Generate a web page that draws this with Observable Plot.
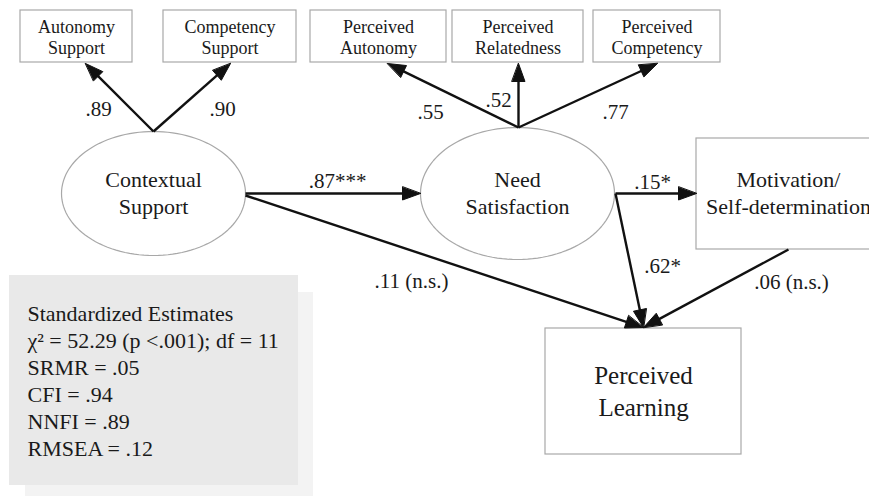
<!DOCTYPE html>
<html><head><meta charset="utf-8">
<script src="https://cdn.jsdelivr.net/npm/d3@7"></script>
<script src="https://cdn.jsdelivr.net/npm/@observablehq/plot@0.6"></script>
<style>html,body{margin:0;padding:0;background:#fff;overflow:hidden}#chart svg{overflow:hidden}</style>
</head><body><div id="chart"></div>
<script>
// ---------- data ----------
const nodeIds = ["AS", "CS", "PA", "PR", "PC", "CTX", "NS", "MOT", "PL"];
const nodeLabels = ["Autonomy\nSupport", "Competency\nSupport", "Perceived\nAutonomy", "Perceived\nRelatedness", "Perceived\nCompetency", "Contextual\nSupport", "Need\nSatisfaction", "Motivation/\nSelf-determination", "Perceived\nLearning"];
const nodeKinds = ["indicator", "indicator", "indicator", "indicator", "indicator", "latent", "latent", "observed", "outcome"];
const pathFrom = ["CTX", "CTX", "NS", "NS", "NS", "CTX", "NS", "CTX", "NS", "MOT"];
const pathTo = ["AS", "CS", "PA", "PR", "PC", "NS", "MOT", "PL", "PL", "PL"];
const pathEstimates = [".89", ".90", ".55", ".52", ".77", ".87***", ".15*", ".11 (n.s.)", ".62*", ".06 (n.s.)"];
const fitStats = ["Standardized Estimates", "χ² = 52.29 (p <.001); df = 11", "SRMR = .05", "CFI = .94", "NNFI = .89", "RMSEA = .12"];

// ---------- layout (diagram units = px) ----------
const nodeLayout = {
  AS:  {shape: "rect", x1: 20,  x2: 132, y1: 10,  y2: 62,  ty: 53},
  CS:  {shape: "rect", x1: 163, x2: 296, y1: 10,  y2: 62,  ty: 53},
  PA:  {shape: "rect", x1: 310, x2: 446, y1: 10,  y2: 62,  ty: 53},
  PR:  {shape: "rect", x1: 452, x2: 583, y1: 10,  y2: 62,  ty: 53},
  PC:  {shape: "rect", x1: 593, x2: 720, y1: 10,  y2: 62,  ty: 53},
  CTX: {shape: "ellipse", cx: 153, cy: 193, rx: 92, ry: 62, ty: 213},
  NS:  {shape: "ellipse", cx: 517, cy: 193, rx: 97, ry: 66, ty: 213},
  MOT: {shape: "rect", x1: 696, x2: 880, y1: 138, y2: 249, ty: 213},
  PL:  {shape: "rect", x1: 545, x2: 741, y1: 328, y2: 454, ty: 415}
};
const kindStyle = {
  indicator: {fontSize: 18, lineHeight: 1.15},
  latent:    {fontSize: 22, lineHeight: 1.2},
  observed:  {fontSize: 22, lineHeight: 1.2},
  outcome:   {fontSize: 25, lineHeight: 1.28}
};
// path endpoints [x1, y1, x2, y2] and estimate label anchor [lx, ly]
const pathLayout = [
  [153, 131, 85, 63, 98, 115],
  [153, 131, 230, 63, 222, 115],
  [518, 127, 387, 63, 430, 118],
  [518, 127, 518, 63, 498, 106],
  [518, 127, 657, 63, 615, 118],
  [245, 193, 420, 193, 337, 187],
  [615, 193, 696, 193, 652, 188],
  [245, 195, 643, 327, 411, 287],
  [615, 193, 643, 327, 662, 272],
  [788, 249, 643, 327, 791, 288]
];
const statsBox = {x1: 9, x2: 298, y1: 275, y2: 485, tx: 27, ty: 455};
const statsShadow = {x1: 25, x2: 313, y1: 292, y2: 505};

const HEAD_L = 18, HEAD_W = 13;
const FONT = "'Liberation Serif', 'Times New Roman', serif";

// ---------- build tables ----------
const nodes = nodeIds.map((id, i) => {
  const L = nodeLayout[id];
  const cx = L.shape === "rect" ? (L.x1 + Math.min(L.x2, 880)) / 2 : L.cx;
  return {id, label: nodeLabels[i], kind: nodeKinds[i], ...L, tx: L.shape === "rect" ? (id === "MOT" ? 788 : cx) : L.cx};
});
const rectNodes = nodes.filter(n => n.shape === "rect");
const ellipseNodes = nodes.filter(n => n.shape === "ellipse");
const ellipsePts = ellipseNodes.flatMap(n => d3.range(0, 361, 3).map(a => ({
  id: n.id, x: n.cx + n.rx * Math.cos(a * Math.PI / 180), y: n.cy + n.ry * Math.sin(a * Math.PI / 180)
})));

const paths = pathFrom.map((f, i) => {
  const [x1, y1, x2, y2, lx, ly] = pathLayout[i];
  const dx = x2 - x1, dy = y2 - y1, len = Math.hypot(dx, dy), ux = dx / len, uy = dy / len;
  return {i, from: f, to: pathTo[i], est: pathEstimates[i], x1, y1, x2, y2, lx, ly, ux, uy,
    sx: x2 - ux * (HEAD_L - 3), sy: y2 - uy * (HEAD_L - 3)};
});
const heads = paths.flatMap(p => {
  const bx = p.x2 - p.ux * HEAD_L, by = p.y2 - p.uy * HEAD_L;
  return [
    {i: p.i, x: p.x2, y: p.y2},
    {i: p.i, x: bx - p.uy * HEAD_W / 2, y: by + p.ux * HEAD_W / 2},
    {i: p.i, x: bx + p.uy * HEAD_W / 2, y: by - p.ux * HEAD_W / 2}
  ];
});

const textMarks = Object.keys(kindStyle).map(k => Plot.text(nodes.filter(n => n.kind === k), {
  x: "tx", y: "ty", text: "label", textAnchor: "middle", lineAnchor: "bottom",
  fontSize: kindStyle[k].fontSize, lineHeight: kindStyle[k].lineHeight, fill: "#1a1a1a", fontFamily: FONT
}));

const chart = Plot.plot({
  width: 869, height: 496,
  margin: 0,
  x: {domain: [0, 869], range: [0, 869], axis: null},
  y: {domain: [0, 496], range: [0, 496], axis: null},
  style: {background: "#fff", fontFamily: FONT, overflow: "hidden"},
  marks: [
    Plot.rect([statsShadow], {x1: "x1", x2: "x2", y1: "y1", y2: "y2", fill: "#f3f3f3"}),
    Plot.rect([statsBox], {x1: "x1", x2: "x2", y1: "y1", y2: "y2", fill: "#e9e9e9"}),
    Plot.rect(rectNodes, {x1: "x1", x2: "x2", y1: "y1", y2: "y2", fill: "#fff", stroke: "#a8a8a8", strokeWidth: 1.2}),
    Plot.line(ellipsePts, {x: "x", y: "y", z: "id", curve: "linear-closed", fill: "#fff", stroke: "#a8a8a8", strokeWidth: 1.2}),
    Plot.link(paths, {x1: "x1", y1: "y1", x2: "sx", y2: "sy", stroke: "#111", strokeWidth: 2.4}),
    Plot.line(heads, {x: "x", y: "y", z: "i", curve: "linear-closed", fill: "#111", stroke: "#111", strokeWidth: 1}),
    Plot.text(paths, {x: "lx", y: "ly", text: "est", textAnchor: "middle", lineAnchor: "bottom", fontSize: 21, fill: "#1a1a1a", fontFamily: FONT}),
    ...textMarks,
    Plot.text([fitStats.join("\n")], {x: statsBox.tx, y: statsBox.ty, textAnchor: "start", lineAnchor: "bottom", fontSize: 22, lineHeight: 27 / 22, fill: "#1a1a1a", fontFamily: FONT})
  ]
});
document.getElementById("chart").appendChild(chart);
</script>
</body></html>
